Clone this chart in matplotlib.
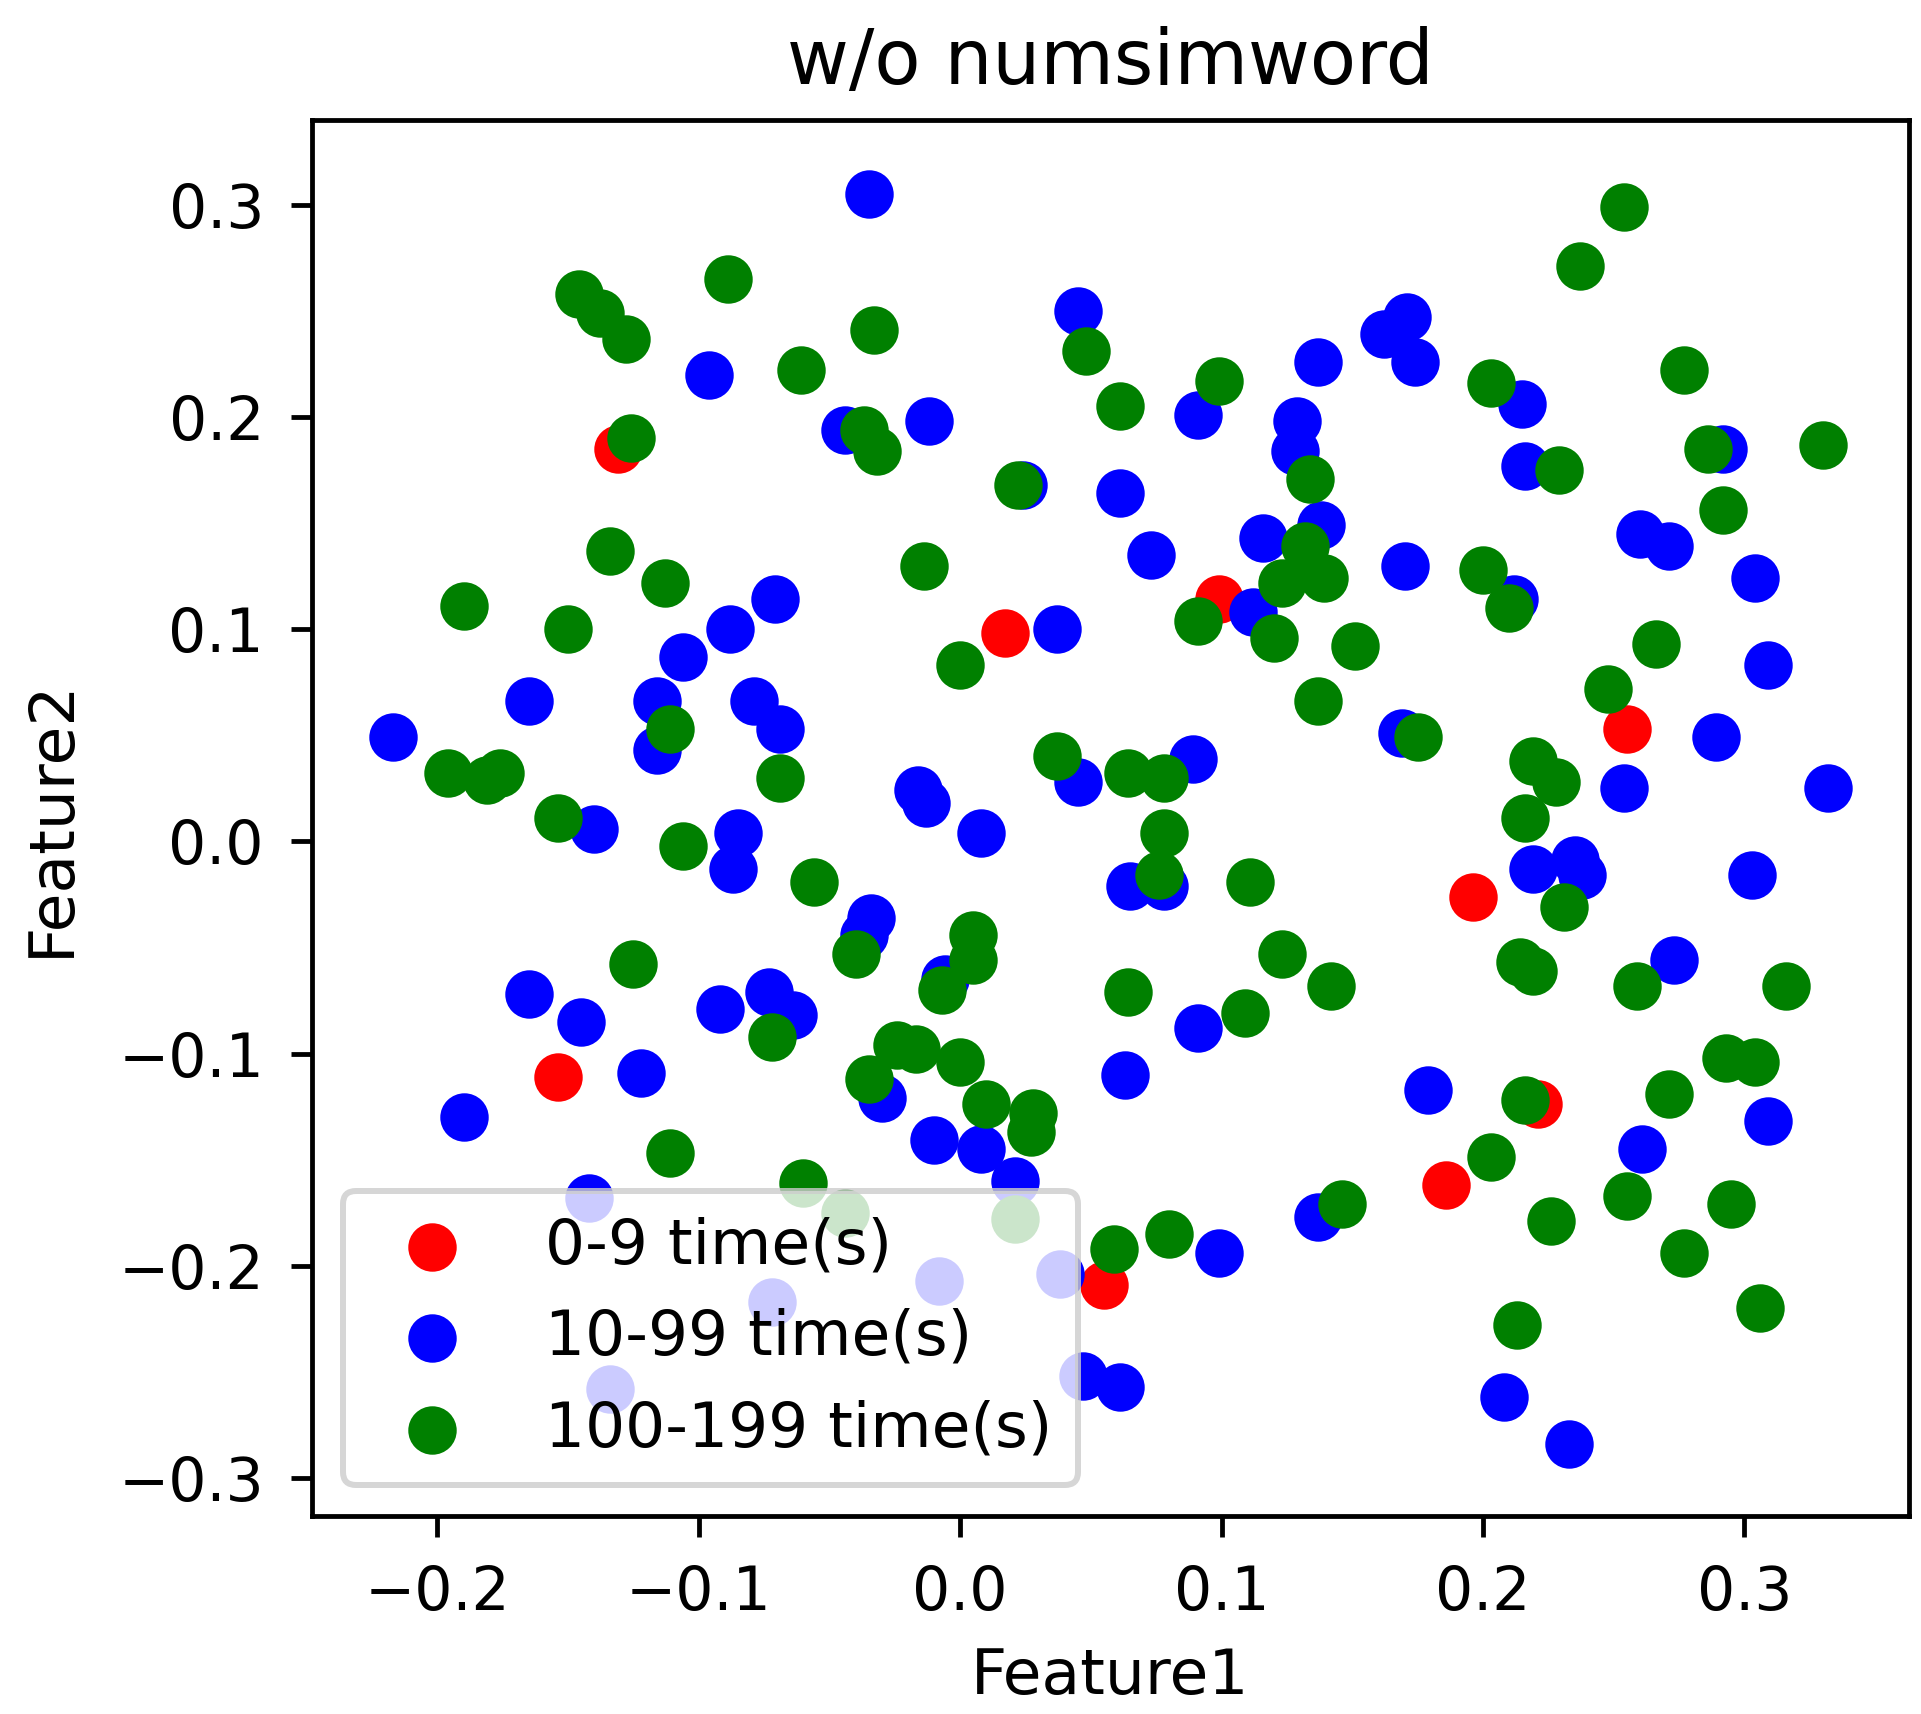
import matplotlib
matplotlib.use("Agg")
import matplotlib.pyplot as plt

red_x = [-0.131, 0.099, 0.017, 0.255, 0.196, -0.154, 0.221, 0.186, 0.055]
red_y = [0.185, 0.114, 0.098, 0.053, -0.026, -0.111, -0.124, -0.162, -0.209]

blue_x = [-0.035, 0.045, -0.096, -0.044, -0.012, 0.024, 0.061, 0.091, 0.073, 0.129,
          0.128, 0.137, 0.162, 0.171, 0.174, 0.116, 0.138, 0.170, 0.112, 0.037,
          0.215, 0.216, 0.292, 0.260, 0.271, 0.304, 0.309, 0.212, 0.169, 0.289,
          0.332, 0.254, 0.219, 0.235, 0.238, 0.303, 0.273, 0.179, 0.309, 0.261,
          0.208, 0.233, 0.137, 0.099, 0.061, 0.047, 0.038, -0.008, 0.021, 0.008,
          -0.010, -0.030, -0.006, -0.034, -0.037, -0.072, -0.134, -0.142, -0.190, -0.122,
          -0.145, -0.165, -0.092, -0.073, -0.064, -0.140, -0.085, -0.087, -0.016, -0.013,
          0.008, 0.045, 0.089, 0.065, 0.078, 0.091, 0.063, -0.217, -0.165, -0.116,
          -0.116, -0.106, -0.088, -0.071, -0.079, -0.069]
blue_y = [0.305, 0.250, 0.220, 0.194, 0.198, 0.168, 0.164, 0.201, 0.135, 0.198,
          0.184, 0.226, 0.239, 0.247, 0.226, 0.143, 0.149, 0.130, 0.108, 0.100,
          0.206, 0.177, 0.185, 0.145, 0.139, 0.124, 0.083, 0.114, 0.051, 0.049,
          0.025, 0.025, -0.013, -0.009, -0.016, -0.016, -0.056, -0.117, -0.132, -0.145,
          -0.262, -0.284, -0.177, -0.194, -0.257, -0.252, -0.204, -0.207, -0.160, -0.145,
          -0.141, -0.121, -0.065, -0.036, -0.044, -0.217, -0.258, -0.168, -0.130, -0.109,
          -0.085, -0.072, -0.079, -0.071, -0.082, 0.006, 0.004, -0.013, 0.024, 0.018,
          0.004, 0.028, 0.039, -0.021, -0.021, -0.088, -0.110, 0.049, 0.066, 0.066,
          0.043, 0.087, 0.100, 0.114, 0.066, 0.053]

green_x = [0.254, 0.237, 0.277, 0.330, 0.286, 0.292, 0.229, 0.203, 0.200, 0.210,
           0.266, 0.248, 0.175, 0.219, 0.228, 0.216, 0.231, 0.214, 0.219, 0.259,
           0.316, 0.293, 0.304, 0.271, 0.216, 0.203, 0.255, 0.295, 0.226, 0.277,
           0.306, 0.213, 0.146, 0.080, 0.059, 0.109, 0.142, 0.123, 0.111, 0.076,
           0.078, 0.064, 0.078, 0.037, 0.064, 0.137, 0.151, 0.120, 0.091, 0.123,
           0.139, 0.132, 0.134, 0.099, 0.061, 0.048, 0.022, 0.000, -0.014, -0.033,
           -0.037, -0.032, -0.061, -0.089, -0.146, -0.138, -0.128, -0.126, -0.134, -0.113,
           -0.150, -0.190, -0.111, -0.196, -0.181, -0.176, -0.154, -0.106, -0.069, -0.056,
           -0.125, -0.072, -0.040, 0.005, 0.005, -0.007, -0.024, -0.017, -0.035, 0.000,
           0.010, 0.028, 0.027, -0.111, -0.060, -0.044, 0.021]
green_y = [0.299, 0.271, 0.222, 0.187, 0.185, 0.156, 0.175, 0.216, 0.128, 0.110,
           0.093, 0.072, 0.049, 0.038, 0.028, 0.011, -0.031, -0.057, -0.061, -0.068,
           -0.068, -0.102, -0.104, -0.119, -0.122, -0.149, -0.167, -0.171, -0.179, -0.194,
           -0.220, -0.228, -0.171, -0.185, -0.192, -0.081, -0.068, -0.053, -0.019, -0.016,
           0.004, 0.032, 0.030, 0.040, -0.071, 0.066, 0.092, 0.096, 0.104, 0.122,
           0.124, 0.139, 0.171, 0.217, 0.205, 0.231, 0.168, 0.083, 0.130, 0.241,
           0.194, 0.184, 0.222, 0.265, 0.258, 0.249, 0.237, 0.190, 0.137, 0.122,
           0.100, 0.111, 0.053, 0.032, 0.029, 0.032, 0.011, -0.002, 0.030, -0.019,
           -0.058, -0.092, -0.053, -0.044, -0.056, -0.070, -0.096, -0.098, -0.112, -0.104,
           -0.124, -0.128, -0.137, -0.147, -0.161, -0.175, -0.178]

labels = ["0-9 time(s)", "10-99 time(s)", "100-199 time(s)"]
title = "w/o numsimword"

DPI = 432
fig = plt.figure(figsize=(1921 / DPI, 1714 / DPI), dpi=DPI)
ax = fig.add_axes([0.1624, 0.1155, 0.9938 - 0.1624, 0.930 - 0.1155])
ax.scatter(red_x, red_y, c="red", s=50, label=labels[0])
ax.scatter(blue_x, blue_y, c="blue", s=50, label=labels[1])
ax.scatter(green_x, green_y, c="green", s=50, label=labels[2])
ax.set_xlim(-0.248, 0.363)
ax.set_ylim(-0.318, 0.340)
ax.set_xticks([-0.2, -0.1, 0.0, 0.1, 0.2, 0.3])
ax.set_yticks([-0.3, -0.2, -0.1, 0.0, 0.1, 0.2, 0.3])
ax.tick_params(labelsize=10, pad=4.5)
ax.set_title(title, fontsize=12.6, pad=6)
ax.set_xlabel("Feature1", fontsize=10.5, labelpad=4)
ax.set_ylabel("Feature2", fontsize=10.5, labelpad=6)
ax.legend(loc="lower left", fontsize=10.5)
fig.savefig("out.png", dpi=DPI)
